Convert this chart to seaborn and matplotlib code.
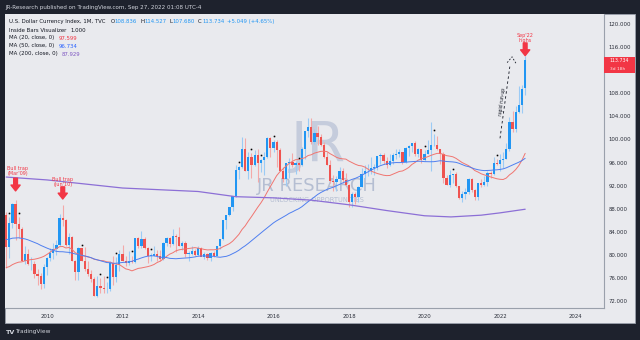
import numpy as np
import pandas as pd
import matplotlib
matplotlib.use("Agg")
import matplotlib.pyplot as plt
import matplotlib.transforms as mtransforms
from matplotlib.patches import Rectangle
import seaborn as sns

# ---------------- data (monthly DXY, Dec 2008 .. Sep 2022) ----------------
first_month = "2008-12-01"
opens = [86.9,
    81.4, 85.6, 88.9, 85.3, 84.5, 79.0, 80.1, 78.4, 78.4, 76.8, 76.4, 75.0,
    77.9, 79.5, 80.4, 81.0, 81.8, 86.4, 86.0, 81.7, 83.1, 78.9, 77.1, 81.2,
    79.0, 77.6, 76.8, 75.9, 72.9, 74.6, 74.3, 74.1, 74.2, 78.6, 76.2, 78.3,
    80.2, 79.0, 78.6, 79.0, 78.8, 83.0, 81.6, 82.7, 81.2, 79.9, 79.9, 80.2,
    79.8, 79.3, 82.1, 82.9, 81.9, 83.3, 83.2, 81.5, 82.1, 80.2, 80.2, 80.7,
    80.0, 81.3, 79.7, 80.1, 79.5, 80.4, 79.8, 81.5, 82.8, 86.0, 87.0, 88.4,
    90.3, 94.8, 95.3, 98.4, 94.6, 96.9, 95.5, 97.3, 96.0, 96.4, 97.0, 100.2,
    98.6, 99.6, 98.2, 94.6, 93.1, 95.9, 96.1, 95.5, 96.0, 95.5, 98.4, 101.5,
    102.2, 99.5, 101.1, 100.4, 99.0, 97.0, 95.6, 92.9, 92.7, 93.1, 94.5, 93.0,
    92.1, 89.1, 90.6, 90.1, 91.8, 94.0, 94.5, 94.5, 95.1, 95.1, 97.1, 97.3,
    96.2, 95.6, 96.2, 97.3, 97.5, 97.8, 96.1, 98.5, 98.9, 99.4, 97.4, 98.3,
    96.4, 97.4, 98.1, 99.0, 99.0, 98.3, 97.4, 93.3, 92.1, 93.9, 94.0, 91.9,
    89.9, 90.6, 90.9, 93.2, 91.3, 90.0, 92.4, 92.2, 92.6, 94.2, 94.1, 96.0,
    95.7, 96.5, 96.7, 98.3, 103.0, 101.8, 104.7, 105.9, 108.836]
highs = [87.4,
    86.5, 89.0, 89.6, 86.5, 84.9, 81.5, 81.0, 79.6, 78.9, 77.6, 76.9, 78.4,
    79.6, 81.3, 82.1, 82.6, 87.1, 88.7, 86.2, 83.9, 83.3, 79.2, 81.4, 81.0,
    81.4, 78.9, 77.4, 76.2, 76.4, 76.0, 76.3, 75.4, 79.0, 79.8, 79.6, 80.8,
    81.8, 79.8, 80.7, 79.9, 83.0, 83.2, 84.1, 83.2, 81.4, 80.3, 81.5, 80.8,
    80.9, 82.2, 83.2, 83.2, 84.5, 83.6, 84.8, 82.4, 82.5, 80.7, 81.5, 81.0,
    81.5, 81.4, 80.5, 80.3, 80.6, 80.7, 81.5, 82.8, 86.1, 87.0, 88.4, 90.3,
    95.5, 95.4, 100.4, 100.2, 97.8, 97.6, 98.2, 98.3, 96.6, 97.9, 100.5, 100.5,
    99.9, 99.9, 98.6, 95.2, 96.0, 96.8, 97.6, 96.2, 96.1, 98.7, 101.5, 103.8,
    103.8, 101.8, 102.3, 101.0, 99.5, 97.8, 96.4, 93.9, 93.6, 95.2, 95.1, 94.2,
    92.3, 90.9, 90.9, 91.9, 95.0, 95.5, 95.7, 96.9, 95.7, 97.2, 97.7, 97.7,
    96.9, 97.4, 97.7, 98.3, 98.4, 97.8, 98.7, 99.0, 99.4, 99.7, 98.5, 98.3,
    98.2, 99.9, 103.0, 100.9, 100.6, 98.4, 97.8, 93.9, 94.7, 94.1, 94.3, 91.9,
    91.0, 91.6, 93.4, 93.4, 91.4, 92.4, 93.2, 93.7, 94.5, 94.6, 96.9, 96.6,
    97.4, 97.8, 99.4, 103.9, 105.0, 105.8, 109.3, 109.5, 114.527]
lows = [77.7,
    79.5, 84.6, 82.6, 83.0, 78.9, 78.5, 78.2, 77.4, 76.0, 74.9, 74.2, 74.3,
    76.6, 79.0, 79.4, 80.0, 81.5, 85.0, 81.5, 80.1, 78.9, 75.6, 75.6, 78.9,
    77.3, 76.4, 75.3, 72.9, 72.7, 73.5, 73.4, 73.5, 73.8, 74.9, 75.3, 77.2,
    78.9, 78.1, 78.3, 78.7, 78.6, 81.3, 81.3, 81.1, 78.6, 79.0, 79.8, 79.0,
    78.9, 79.1, 81.5, 81.4, 81.8, 80.5, 81.5, 80.8, 79.6, 79.0, 80.0, 79.8,
    79.9, 79.8, 79.3, 79.2, 78.9, 79.7, 79.8, 81.1, 82.6, 84.5, 86.8, 87.6,
    90.1, 93.2, 95.0, 94.5, 93.1, 93.3, 95.4, 92.6, 94.4, 93.8, 96.8, 96.9,
    97.9, 95.2, 94.6, 92.6, 91.9, 93.4, 95.3, 94.1, 94.5, 95.4, 96.6, 100.4,
    99.2, 99.2, 99.0, 98.8, 96.8, 95.5, 92.5, 91.0, 91.0, 92.7, 92.5, 91.9,
    88.4, 88.3, 88.9, 89.2, 91.7, 93.2, 93.7, 94.1, 93.8, 94.8, 95.7, 95.7,
    95.0, 95.4, 95.7, 96.7, 97.0, 95.8, 96.0, 97.1, 97.8, 97.1, 97.0, 96.0,
    96.2, 97.4, 94.6, 98.8, 98.1, 95.7, 92.5, 92.1, 91.7, 92.5, 91.8, 89.7,
    89.2, 89.7, 90.6, 90.9, 89.5, 89.6, 91.8, 92.0, 91.9, 93.3, 93.9, 95.5,
    94.6, 95.1, 96.6, 98.0, 101.3, 101.3, 104.6, 104.6, 107.680]
closes = [81.4,
    85.6, 88.9, 85.3, 84.5, 79.0, 80.1, 78.4, 78.4, 76.8, 76.4, 75.0, 77.9,
    79.5, 80.4, 81.0, 81.8, 86.4, 86.0, 81.7, 83.1, 78.9, 77.1, 81.2, 79.0,
    77.6, 76.8, 75.9, 72.9, 74.6, 74.3, 74.1, 74.2, 78.6, 76.2, 78.3, 80.2,
    79.0, 78.6, 79.0, 78.8, 83.0, 81.6, 82.7, 81.2, 79.9, 79.9, 80.2, 79.8,
    79.3, 82.1, 82.9, 81.9, 83.3, 83.2, 81.5, 82.1, 80.2, 80.2, 80.7, 80.0,
    81.3, 79.7, 80.1, 79.5, 80.4, 79.8, 81.5, 82.8, 86.0, 87.0, 88.4, 90.3,
    94.8, 95.3, 98.4, 94.6, 96.9, 95.5, 97.3, 96.0, 96.4, 97.0, 100.2, 98.6,
    99.6, 98.2, 94.6, 93.1, 95.9, 96.1, 95.5, 96.0, 95.5, 98.4, 101.5, 102.2,
    99.5, 101.1, 100.4, 99.0, 97.0, 95.6, 92.9, 92.7, 93.1, 94.5, 93.0, 92.1,
    89.1, 90.6, 90.1, 91.8, 94.0, 94.5, 94.5, 95.1, 95.1, 97.1, 97.3, 96.2,
    95.6, 96.2, 97.3, 97.5, 97.8, 96.1, 98.5, 98.9, 99.4, 97.4, 98.3, 96.4,
    97.4, 98.1, 99.0, 99.0, 98.3, 97.4, 93.3, 92.1, 93.9, 94.0, 91.9, 89.9,
    90.6, 90.9, 93.2, 91.3, 90.0, 92.4, 92.2, 92.6, 94.2, 94.1, 96.0, 95.7,
    96.5, 96.7, 98.3, 103.0, 101.8, 104.7, 105.9, 108.7, 113.734]
# closes before the visible window (Nov 2004 .. Nov 2008), used only for the MAs
pre_closes = [81.0, 80.9,
    83.8, 82.6, 84.4, 84.3, 87.0, 89.1, 88.3, 87.1, 89.4, 89.9, 91.4, 91.1,
    89.4, 90.7, 89.5, 86.4, 84.9, 85.3, 85.0, 85.2, 85.9, 85.2, 82.9, 83.7,
    84.6, 83.6, 82.8, 81.5, 82.3, 81.9, 80.4, 80.8, 78.0, 76.5, 75.8, 76.7,
    75.7, 73.9, 71.8, 73.5, 72.9, 72.5, 73.3, 77.3, 79.7, 85.3, 86.9]
# MA(200)
ma200_t = [2008.917, 2010.0, 2011.0, 2012.0, 2013.0, 2014.0, 2015.0, 2016.0,
           2017.0, 2018.0, 2019.0, 2020.0, 2020.7, 2021.5, 2022.0, 2022.667]
ma200_v = [93.5, 93.0, 92.3, 91.6, 91.3, 91.0, 90.1, 89.9,
           89.5, 88.7, 87.7, 86.8, 86.6, 86.9, 87.3, 87.93]
# 112.000 is hidden under the last-price tag in the reference
price_ticks = [72, 76, 80, 84, 88, 92, 96, 100, 104, 108, 116, 120]
year_ticks = [2010, 2012, 2014, 2016, 2018, 2020, 2022, 2024]

# ---------------- styling ----------------
W, H = 640, 340
UP, DN = "#2196f3", "#ef5350"
UPW, DNW = "#9ccbf5", "#f4a9a8"
DARK = "#131722"
BG = "#e9eaee"
OUT = "#1e222d"

sns.set_theme(style="white")
plt.rcParams["font.family"] = ["DejaVu Sans"]

fig = plt.figure(figsize=(W / 100, H / 100), dpi=100, facecolor=OUT)
px = mtransforms.Affine2D().scale(1 / W, -1 / H).translate(0, 1) + fig.transFigure

# panel
fig.patches.append(Rectangle((5, 14), 630, 309, transform=px, facecolor=BG,
                             edgecolor="#9aa0ab", lw=0.6, zorder=-5))

ax = fig.add_axes([5 / W, 1 - 308 / H, (604 - 5) / W, (308 - 14) / H])
ax.set_zorder(1)
ax.set_facecolor(BG)

dates = pd.date_range(first_month, periods=len(closes), freq="MS")
t = np.array(dates.year + (dates.month - 1) / 12.0)
o, hi, lo, c = map(np.array, (opens, highs, lows, closes))
up = c >= o

# moving averages
allc = pd.Series(pre_closes + closes)
ma20 = allc.rolling(20).mean().iloc[len(pre_closes):].to_numpy()
ma50 = allc.rolling(50).mean().iloc[len(pre_closes):].to_numpy()
df = pd.DataFrame({"t": t, "ma20": ma20, "ma50": ma50})
sns.lineplot(data=df, x="t", y="ma20", ax=ax, color="#f07570", lw=0.7, zorder=4)
sns.lineplot(data=df, x="t", y="ma50", ax=ax, color="#4f7ff0", lw=0.7, zorder=4)
sns.lineplot(x=ma200_t, y=ma200_v, ax=ax, color="#8c6fd6", lw=0.9, zorder=4)

# candles
ax.vlines(t, lo, hi, colors=np.where(up, UPW, DNW), lw=0.8, zorder=2)
body_h = np.maximum(np.abs(c - o), 0.08)
ax.bar(t, body_h, bottom=np.minimum(o, c), width=0.06,
       color=np.where(up, UP, DN), linewidth=0, zorder=3)

# inside bars
inside = np.zeros(len(c), bool)
inside[1:] = (hi[1:] < hi[:-1]) & (lo[1:] > lo[:-1])
ax.scatter(t[inside], hi[inside] + 0.75, s=2.2, color="black",
           edgecolors="white", linewidths=0.2, zorder=6)

ax.set_xlim(2008.887, 2024.755)
ax.set_ylim(70.84, 121.71)
ax.set_xticks(year_ticks)
ax.set_xticklabels([str(y) for y in year_ticks])
ax.set_yticks(price_ticks)
ax.set_yticklabels([f"{v:.3f}" for v in price_ticks])
ax.yaxis.tick_right()
ax.tick_params(axis="y", length=0, pad=3.5, labelsize=3.9, labelcolor="#2a2e39")
ax.tick_params(axis="x", length=0, pad=4, labelsize=3.9, labelcolor="#2a2e39")
ax.set_xlabel("")
ax.set_ylabel("")
ax.grid(False)
for s in ("top", "left"):
    ax.spines[s].set_visible(False)
for s in ("right", "bottom"):
    ax.spines[s].set_color("#9aa0ab")
    ax.spines[s].set_linewidth(0.8)

# watermark
ax.text(318, 146, "JR", transform=px, fontsize=40, color="#b9c2d6", alpha=0.75,
        ha="center", va="center", zorder=1)
ax.text(317, 186, "JR RESEARCH", transform=px, fontsize=13, color="#a9b4cb",
        alpha=0.8, ha="center", va="center", zorder=1)
ax.text(317, 200, "UNLOCKING OPPORTUNITIES", transform=px, fontsize=4.8,
        color="#a9b4cb", alpha=0.8, ha="center", va="center", zorder=1)

# annotations
RED = "#f23645"
def down_arrow(x, y0, y1):
    ax.annotate("", xy=(x, y1), xytext=(x, y0), zorder=7,
                arrowprops=dict(arrowstyle="simple,head_width=1.1,head_length=0.7,tail_width=0.45",
                                color=RED, mutation_scale=6, shrinkA=0, shrinkB=0))

ax.text(2009.22, 94.6, "Bull trap\n(Mar'09)", fontsize=3.5, color=RED, ha="center",
        va="center", linespacing=1.0, zorder=7)
down_arrow(2009.167, 93.3, 91.1)
ax.text(2010.417, 92.7, "Bull trap\n(Jun'10)", fontsize=3.5, color=RED, ha="center",
        va="center", linespacing=1.0, zorder=7)
down_arrow(2010.417, 91.8, 89.7)
ax.text(2022.667, 117.6, "Sep'22\nhighs", fontsize=3.5, color=RED, ha="center",
        va="center", linespacing=1.0, zorder=7)
down_arrow(2022.667, 116.7, 114.5)

ax.plot([2022.0, 2022.26], [100.2, 112.6], ls=(0, (3, 3)), color=DARK, lw=0.6, zorder=7)
ax.plot([2022.19, 2022.32, 2022.42], [113.3, 114.3, 113.2], ls=(0, (2, 2)),
        color=DARK, lw=0.6, zorder=7)
ax.text(2022.06, 106.6, "rapid run-up", fontsize=3.3, color=DARK, rotation=83,
        ha="center", va="center", zorder=7)

# current price tag
fig.patches.append(Rectangle((604, 56.5), 31, 16, transform=px, facecolor=RED,
                             edgecolor="none", zorder=5))
fig.text(609.5, 60.5, "113.734", transform=px, fontsize=3.4, color="white", va="center", zorder=6)
fig.text(609.5, 68.8, "3d 18h", transform=px, fontsize=3.2, color="#ffe3e3", va="center", zorder=6)

# header / legend
fig.text(5, 7, "JR-Research published on TradingView.com, Sep 27, 2022 01:08 UTC-4",
         transform=px, fontsize=4.1, color="#d1d4dc", va="center")
fig.canvas.draw()
rend = fig.canvas.get_renderer()

def row(x, y, segs, size=3.9):
    for s, col, gap in segs:
        tt = fig.text(x, y, s, transform=px, fontsize=size, color=col, va="center", zorder=8)
        x += tt.get_window_extent(renderer=rend).width + gap

BL = "#2196f3"
row(9, 21.7, [("U.S. Dollar Currency Index, 1M, TVC", DARK, 5), ("O", DARK, 0.3),
              ("108.836", BL, 3), ("H", DARK, 0.3), ("114.527", BL, 3), ("L", DARK, 0.3),
              ("107.680", BL, 3), ("C", DARK, 0.3), ("113.734", BL, 3),
              ("+5.049 (+4.65%)", BL, 0)])
row(9, 30, [("Inside Bars Visualizer", DARK, 4), ("1.000", DARK, 0)])
row(9, 38, [("MA (20, close, 0)", DARK, 4), ("97.599", "#f23645", 0)])
row(9, 46, [("MA (50, close, 0)", DARK, 4), ("96.734", "#2962ff", 0)])
row(9, 54, [("MA (200, close, 0)", DARK, 4), ("87.929", "#7e57c2", 0)])

# footer logo
fig.text(6, 332, "TV", transform=px, fontsize=4.6, color="#d1d4dc", va="center",
         fontweight="bold")
fig.text(15, 332, "TradingView", transform=px, fontsize=4.2, color="#d1d4dc", va="center")

fig.savefig("out.png", dpi=100, facecolor=OUT)
